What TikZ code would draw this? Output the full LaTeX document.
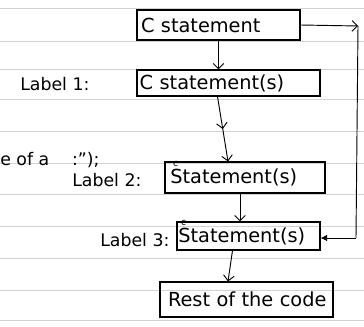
\documentclass[tikz,border=0pt]{standalone}
\usepackage{fontspec}
\setmainfont{DejaVu Sans}
\usetikzlibrary{arrows.meta,calc,decorations.markings}
\newcommand{\cstmt}[1]{\raisebox{-3pt}{\rlap{\hspace{2pt}\smash{\raisebox{12.5pt}{\scriptsize c}}}#1}}
\begin{document}
\begin{tikzpicture}[x=0.75pt,y=-0.75pt,
  rule/.style={draw=gray!35,line width=0.5pt},
  box/.style={draw,line width=0.8pt,inner sep=0pt,align=left,
    font=\fontsize{14.5}{16}\selectfont},
  lab/.style={inner sep=0pt,font=\fontsize{13}{15}\selectfont},
  arr/.style={line width=0.7pt,-{Straight Barb[length=4pt,width=8pt]}},
  farr/.style={line width=0.7pt,-{Latex[length=5pt,width=5pt]}},
  midarr/.style={postaction={decorate},decoration={markings,
    mark=at position 0.5 with {\arrow{Straight Barb[length=4pt,width=8pt]}}}}]
\useasboundingbox (0,0) rectangle (364,327);
\foreach \yy in {8,41,69,99,131,163,194,226,258,290,320}
  \draw[rule] (0,\yy) -- (364,\yy);
% boxes
\node[box,minimum height=22.5pt,text width=122.25pt] (b1) at (218.5,25)
  {\hspace{3pt}C statement};
\node[box,minimum height=19.5pt,text width=137.25pt] (b2) at (228.5,83)
  {\hspace{2pt}C statement(s)};
\node[box,minimum height=23.25pt,text width=120pt] (b3) at (245,177.5)
  {\hspace{4pt}\cstmt{Statement(s)}};
\node[box,minimum height=21pt,text width=107.25pt] (b4) at (248.5,236)
  {\hspace{1pt}\cstmt{Statement(s)}};
\node[box,minimum height=26.25pt,text width=129.75pt] (b5) at (246.5,299.5)
  {\hspace{6pt}Rest of the code};
% labels
\node[lab,anchor=base west] (l1) at (20,91) {Label 1:};
\node[lab,anchor=base west] (l2) at (72,187) {Label 2:};
\node[lab,anchor=base west] (l3) at (100,247) {Label 3:};
\node[lab,anchor=base west] (frag) at (0,166) {e of a \quad :\symbol{34});};
% connectors
\coordinate (tr) at (358,26);
\coordinate (br) at (356,238);
\draw[arr] (b1.south) -- (b1.south |- b2.north);
\draw[arr,midarr] ($(b2.south)+(-11,0)$) -- (b3.north -| 228,0);
\draw[arr] ($(b3.south)+(-5,0)$) -- (b4.north -| 240,0);
\draw[arr] ($(b4.south)+(-16,0)$) -- (b5.north -| 228,0);
\draw[arr] (b1.east) -- (tr);
\draw[line width=0.7pt] (tr) -- (br);
\draw[farr] (br) -- (b4.east |- br);
\end{tikzpicture}
\end{document}
